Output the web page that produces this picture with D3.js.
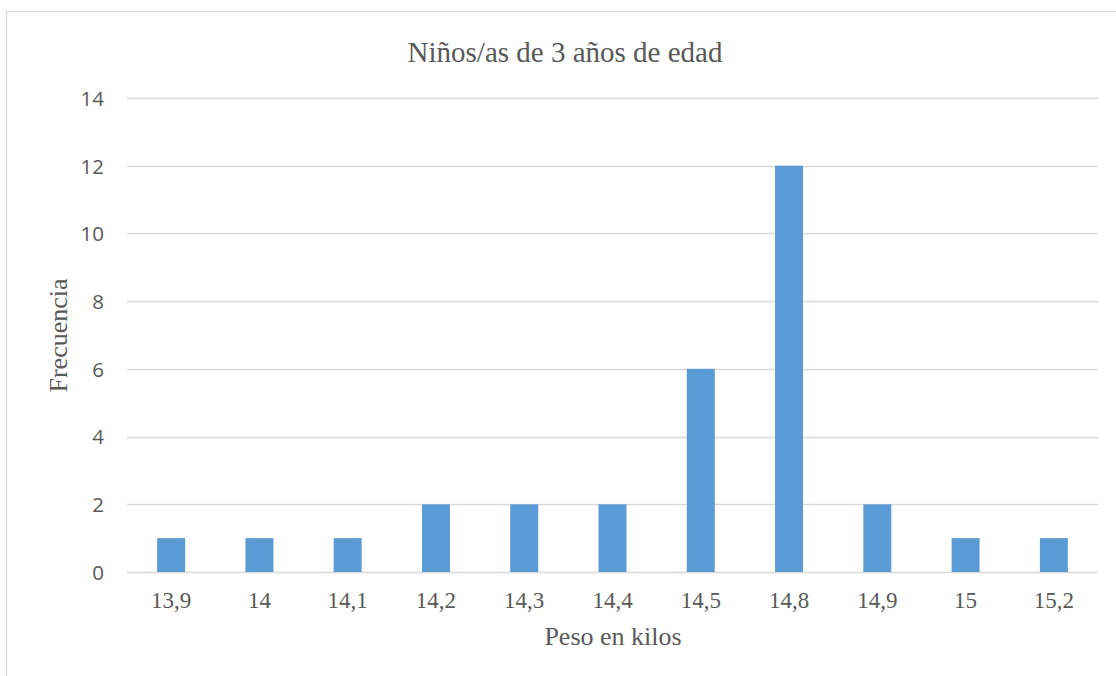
<!DOCTYPE html>
<html><head><meta charset="utf-8">
<script src="https://cdn.jsdelivr.net/npm/d3@7"></script>
<style>html,body{margin:0;padding:0;background:#fff;}</style>
</head><body>
<svg id="chart" width="1116" height="676"></svg>
<script>
const categories = ["13,9","14","14,1","14,2","14,3","14,4","14,5","14,8","14,9","15","15,2"];
const frequencies = [1,1,1,2,2,2,6,12,2,1,1];
const yTicks = [0,2,4,6,8,10,12,14];
const title = "Niños/as de 3 años de edad";
const xTitle = "Peso en kilos";
const yTitle = "Frecuencia";

(function(){
const svg = d3.select("#chart");
svg.append("rect").attr("x",6.5).attr("y",11.5).attr("width",1130).attr("height",700)
  .attr("fill","#fff").attr("stroke","#d9d9d9").attr("stroke-width",1);

const pLeft=127, pRight=1098, pTop=98, pBottom=572;
const x = d3.scaleBand().domain(categories).range([pLeft,pRight]).paddingInner(0.683).paddingOuter(0.3415);
const y = d3.scaleLinear().domain([0,14]).range([pBottom,pTop]);

svg.append("g").selectAll("line").data(yTicks).join("line")
  .attr("x1",pLeft).attr("x2",pRight)
  .attr("y1",d=>Math.round(y(d))+0.5).attr("y2",d=>Math.round(y(d))+0.5)
  .attr("stroke","#d9d9d9").attr("stroke-width",1.3);

const yAxis = d3.axisLeft(y).tickValues(yTicks).tickSize(0).tickPadding(0);
const gy = svg.append("g").attr("transform",`translate(${pLeft-23},0)`).call(yAxis);
gy.attr("font-size",null).attr("font-family",null);
gy.select(".domain").remove();
gy.selectAll("text").attr("fill","#595959").attr("dy","0.36em")
  .style("font-family","'Open Sans', 'Liberation Sans', sans-serif").style("font-size","20.5px");

svg.append("g").selectAll("rect").data(frequencies).join("rect")
  .attr("x",(d,i)=>x(categories[i]))
  .attr("width",x.bandwidth())
  .attr("y",d=>y(d))
  .attr("height",d=>y(0)-y(d))
  .attr("fill","#5b9bd5");

const xAxis = d3.axisBottom(x).tickSize(0).tickPadding(0);
const gx = svg.append("g").attr("transform",`translate(0,${pBottom})`).call(xAxis);
gx.attr("font-size",null).attr("font-family",null);
gx.select(".domain").remove();
gx.selectAll("text").attr("fill","#595959").attr("y",36).attr("dy","0")
  .style("font-family","'Liberation Serif', 'Times New Roman', serif").style("font-size","23px");

svg.append("text").attr("x",565).attr("y",62).attr("text-anchor","middle")
  .attr("fill","#595959").style("font-family","'Liberation Serif', serif").style("font-size","29px").text(title);
svg.append("text").attr("x",613).attr("y",645).attr("text-anchor","middle")
  .attr("fill","#595959").style("font-family","'Liberation Serif', serif").style("font-size","26px").text(xTitle);
svg.append("text").attr("transform","translate(67,335.5) rotate(-90)").attr("text-anchor","middle")
  .attr("fill","#595959").style("font-family","'Liberation Serif', serif").style("font-size","26px").text(yTitle);
})();
</script>
</body></html>
